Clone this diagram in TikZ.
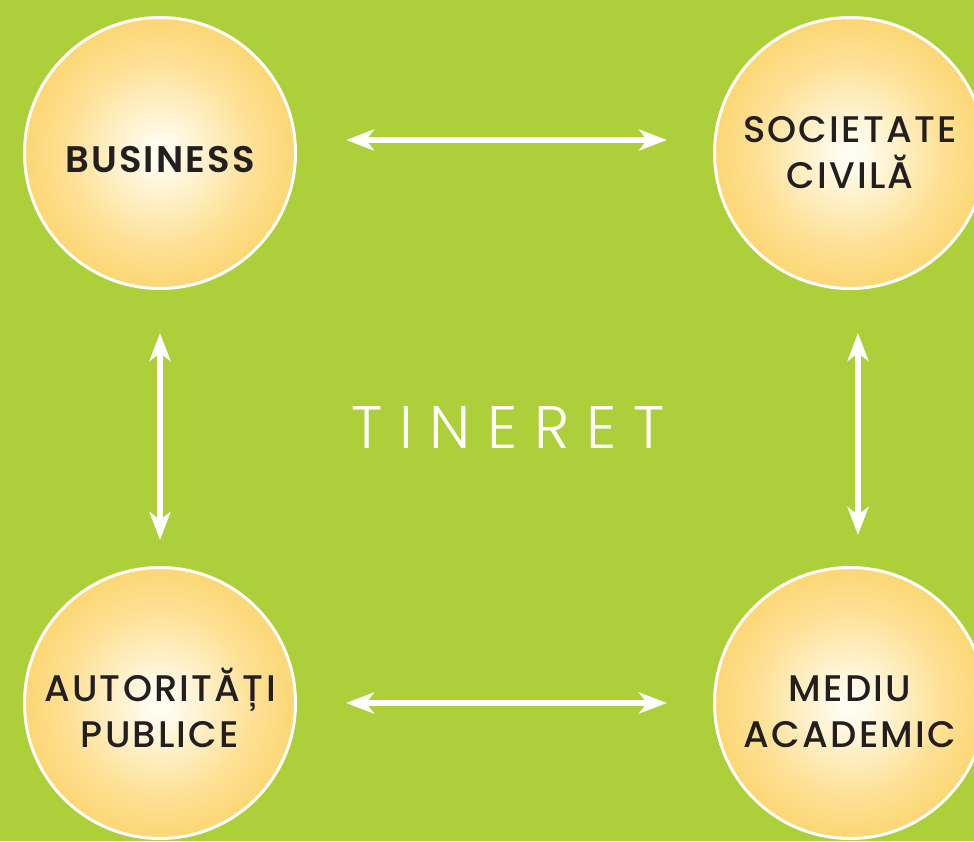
\documentclass[tikz,border=0pt]{standalone}
\usepackage{fontspec}
\setmainfont{Poppins Medium}[LetterSpace=6, BoldFont=Poppins SemiBold]
\newfontfamily\lightfont{Poppins Light}[LetterSpace=28]
\usetikzlibrary{arrows.meta}

\definecolor{bggreen}{RGB}{173,207,58}
\definecolor{ballout}{RGB}{249,187,30}
\definecolor{ballrim}{RGB}{251,200,70}
\definecolor{ballmid}{RGB}{254,225,150}
\definecolor{ballin}{RGB}{255,252,240}
\definecolor{txtdark}{RGB}{35,31,32}
\pgfdeclareradialshading{sunball}{\pgfpoint{0bp}{0bp}}{%
  color(0bp)=(ballin); color(2bp)=(ballin); color(17bp)=(ballmid); color(36bp)=(ballrim); color(50bp)=(ballout)}

\tikzset{
  ball/.style={circle, minimum size=271pt, inner sep=0pt, draw=white, line width=3pt,
    shading=sunball, align=center, text=txtdark, font=\fontsize{37}{46}\selectfont},
  link/.style={draw=white, line width=6pt,
    {Stealth[length=28pt,width=21pt,inset=8pt]}-{Stealth[length=28pt,width=21pt,inset=8pt]}}
}

\begin{document}
\begin{tikzpicture}[x=1pt,y=-1pt]
  \useasboundingbox (0,0) rectangle (974,841);
  \clip (0,0) rectangle (974,841);
  \fill[bggreen] (0,0) rectangle (974,841);

  \node[ball, text height=38pt, text depth=0pt] (business) at (160,153) {\bfseries BUSINESS};
  \node[ball] (civil)    at (850,153) {SOCIETATE\\CIVILĂ};
  \node[ball, text height=88pt, text depth=0pt] (public)   at (160,703) {AUTORITĂȚI\\PUBLICE};
  \node[ball, text height=88pt, text depth=0pt] (academic) at (850,703) {MEDIU\\ACADEMIC};
  \node[text=white, font=\lightfont\fontsize{60}{70}\selectfont] (youth) at (508,427) {TINERET};

  \draw[link, shorten <=49pt, shorten >=46pt] ([yshift=13pt]business.east) -- ([yshift=13pt]civil.west);
  \draw[link, shorten <=49pt, shorten >=46pt] (public.east) -- (academic.west);
  \draw[link, shorten <=43pt, shorten >=26pt] (business.south) -- (public.north);
  \draw[link, shorten <=43pt, shorten >=31pt] ([xshift=8pt]civil.south) -- ([xshift=8pt]academic.north);
\end{tikzpicture}
\end{document}
